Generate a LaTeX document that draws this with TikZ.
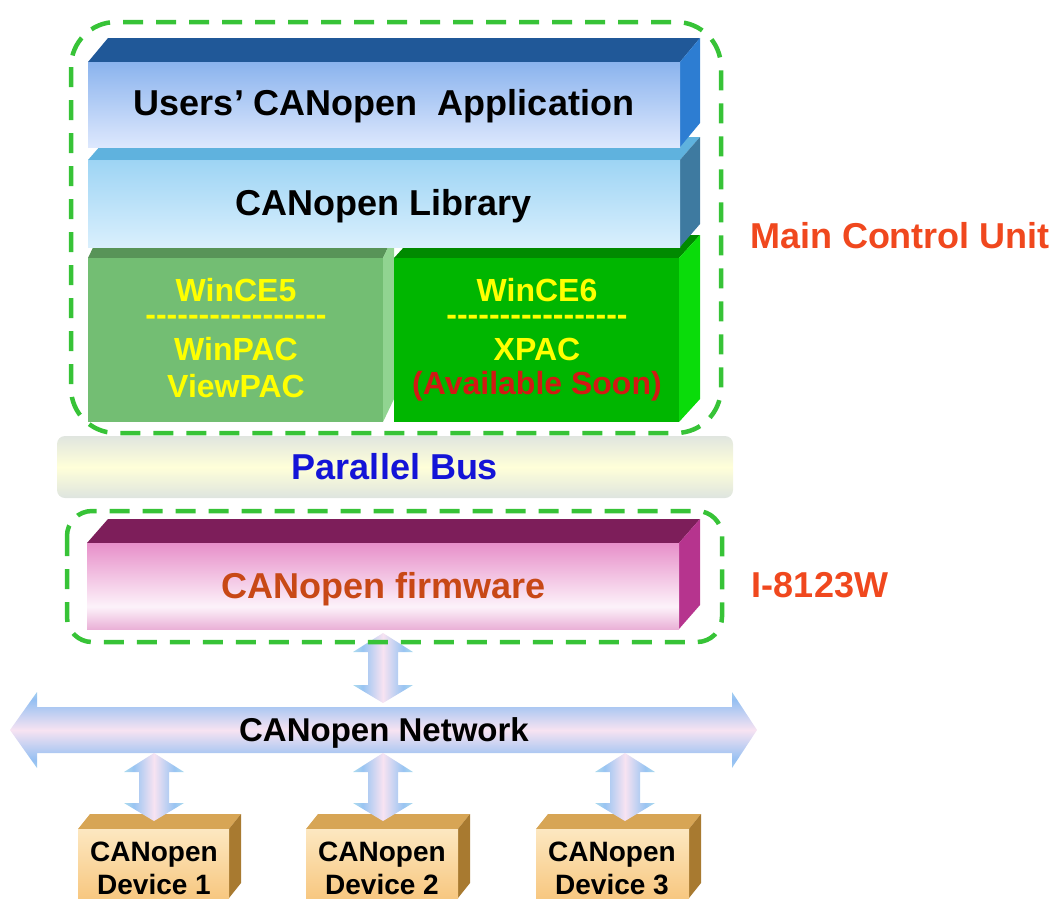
\documentclass[tikz,border=0pt]{standalone}
\usepackage{fontspec}
\setmainfont{Liberation Sans}
\definecolor{dashgreen}{RGB}{55,195,55}
\definecolor{apptop}{RGB}{32,88,152}
\definecolor{appside}{RGB}{45,125,210}
\definecolor{libtop}{RGB}{95,178,222}
\definecolor{libside}{RGB}{62,122,160}
\definecolor{ceAfront}{RGB}{115,190,115}
\definecolor{ceAtop}{RGB}{88,148,88}
\definecolor{ceAside}{RGB}{145,212,145}
\definecolor{ceBfront}{RGB}{0,182,0}
\definecolor{ceBtop}{RGB}{0,138,0}
\definecolor{ceBside}{RGB}{10,220,10}
\definecolor{fwtop}{RGB}{125,30,90}
\definecolor{fwside}{RGB}{182,52,142}
\definecolor{devtop}{RGB}{215,165,85}
\definecolor{devside}{RGB}{168,122,48}
\definecolor{labelred}{RGB}{240,72,30}
\definecolor{fwtext}{RGB}{200,72,22}
\definecolor{busblue}{RGB}{20,20,215}
\definecolor{yel}{RGB}{255,255,0}
\definecolor{soonred}{RGB}{210,25,20}
\pgfdeclareverticalshading{appfront}{100bp}{rgb(0bp)=(0.4,0.6,0.9); rgb(20bp)=(0.9,0.93,1); rgb(100bp)=(0.38,0.6,0.9)}
\pgfdeclareverticalshading{libfront}{100bp}{rgb(0bp)=(0.72,0.87,0.98); rgb(15bp)=(0.9,0.96,1); rgb(100bp)=(0.5,0.78,0.94)}
\pgfdeclareverticalshading{fwfront}{100bp}{rgb(0bp)=(0.78,0.2,0.58); rgb(38bp)=(0.99,0.95,0.98); rgb(100bp)=(0.85,0.3,0.66)}
\pgfdeclareverticalshading{busshade}{100bp}{rgb(0bp)=(0.74,0.79,0.9); rgb(50bp)=(1,1,0.85); rgb(100bp)=(0.76,0.8,0.9)}
\pgfdeclareverticalshading{devfront}{100bp}{rgb(0bp)=(0.96,0.72,0.38); rgb(100bp)=(1,0.97,0.88)}
\pgfdeclareverticalshading{harrow}{100bp}{rgb(0bp)=(0.78,0.92,0.94); rgb(20bp)=(0.7,0.87,0.93); rgb(30bp)=(0.58,0.75,0.95); rgb(50bp)=(0.97,0.89,0.95); rgb(70bp)=(0.58,0.75,0.95); rgb(80bp)=(0.7,0.87,0.93); rgb(100bp)=(0.78,0.92,0.94)}
\pgfdeclarehorizontalshading{varrow}{100bp}{rgb(0bp)=(0.78,0.92,0.94); rgb(25bp)=(0.68,0.86,0.93); rgb(33bp)=(0.6,0.77,0.95); rgb(50bp)=(0.97,0.89,0.95); rgb(67bp)=(0.6,0.77,0.95); rgb(75bp)=(0.68,0.86,0.93); rgb(100bp)=(0.78,0.92,0.94)}
% 3D box: x1,y1,x2,y2,dx,dy,top colour,side colour,front style
\newcommand\tdbox[9]{%
  \fill[#7] (#1,#2) -- (#1+#5,#2-#6) -- (#3+#5,#2-#6) -- (#3,#2) -- cycle;
  \fill[#8] (#3,#2) -- (#3+#5,#2-#6) -- (#3+#5,#4-#6) -- (#3,#4) -- cycle;
  \path[#9] (#1,#2) rectangle (#3,#4);}
% vertical double arrow: x, y top tip, y bottom tip
\newcommand\vdarrow[3]{%
  \shade[shading=varrow] (#1,#2) -- (#1+30,#2+19) -- (#1+15,#2+19) -- (#1+15,#3-18)
    -- (#1+30,#3-18) -- (#1,#3) -- (#1-30,#3-18) -- (#1-15,#3-18) -- (#1-15,#2+19)
    -- (#1-30,#2+19) -- cycle;}
\newcommand\hy{-\kern0pt}
\begin{document}
\begin{tikzpicture}[x=1pt,y=-1pt,
  big/.style={font=\fontsize{36}{40}\selectfont\bfseries},
  mid/.style={font=\fontsize{32}{36}\selectfont\bfseries},
  rule/.style={font=\fontsize{32}{36}\selectfont\bfseries, anchor=base, inner sep=0pt, text height=12pt, text depth=0pt},
  net/.style={font=\fontsize{33}{36}\selectfont\bfseries},
  dev/.style={font=\fontsize{28}{33}\selectfont\bfseries, align=center},
  grp/.style={draw=dashgreen, line width=4.5pt, dash pattern=on 20pt off 13pt}]
\useasboundingbox (0,0) rectangle (1058,898);

% green OS boxes
\tdbox{88}{258}{383}{422}{11}{23}{ceAtop}{ceAside}{fill=ceAfront}
\tdbox{394}{258}{679}{422}{21}{23}{ceBtop}{ceBside}{fill=ceBfront}
% library and application
\tdbox{88}{160}{680}{247}{20}{23}{libtop}{libside}{shade,shading=libfront}
\tdbox{88}{62}{680}{147}{20}{24}{apptop}{appside}{shade,shading=appfront}
% firmware
\tdbox{87}{543}{679}{629}{21}{24}{fwtop}{fwside}{shade,shading=fwfront}
% parallel bus
\shade[shading=busshade, rounded corners=8pt] (57,436) rectangle (733,498);

% network arrow
\shade[shading=harrow] (10,730) -- (37,692) -- (37,707) -- (732,707) -- (732,692)
  -- (757,730) -- (732,768) -- (732,753) -- (37,753) -- (37,768) -- cycle;

% devices
\tdbox{78}{829}{229}{898}{12}{15}{devtop}{devside}{shade,shading=devfront}
\tdbox{306}{829}{458}{898}{12}{15}{devtop}{devside}{shade,shading=devfront}
\tdbox{536}{829}{689}{898}{12}{15}{devtop}{devside}{shade,shading=devfront}

% connectors
\vdarrow{383}{633}{703}
\vdarrow{154}{753}{821}
\vdarrow{383}{753}{821}
\vdarrow{625}{753}{821}

% group outlines
\draw[grp, rounded corners=45pt] (71,22) rectangle (721,433);
\draw[grp, rounded corners=25pt] (67,511) rectangle (722,642);

% texts
\node[big] (app) at (384,106) {Users’ CANopen\ \ Application};
\node[big] (lib) at (384,206) {CANopen Library};
\node[mid, text=yel] (ceA) at (236,290) {WinCE5};
\node[rule, text=yel] (ceAd) at (236,325) {\hy\hy\hy\hy\hy\hy\hy\hy\hy\hy\hy\hy\hy\hy\hy\hy\hy};
\node[mid, text=yel] (ceAb) at (236,349) {WinPAC};
\node[mid, text=yel] (ceAc) at (236,386) {ViewPAC};
\node[mid, text=yel] (ceB) at (537,290) {WinCE6};
\node[rule, text=yel] (ceBd) at (537,325) {\hy\hy\hy\hy\hy\hy\hy\hy\hy\hy\hy\hy\hy\hy\hy\hy\hy};
\node[mid, text=yel] (ceBb) at (537,349) {XPAC};
\node[mid, text=soonred] (ceBc) at (537,386) {(Available Soon)};
\node[big, text=labelred] (mcu) at (900,236) {Main Control Unit};
\node[big, text=busblue] (bus) at (395,467) {Parallel Bus};
\node[big, text=fwtext] (fw) at (384,589) {CANopen firmware};
\node[big, text=labelred] (io) at (820,585) {I-8123W};
\node[net] (netw) at (384,733) {CANopen Network};
\node[dev] (d1) at (154,868) {CANopen\\Device 1};
\node[dev] (d2) at (382,868) {CANopen\\Device 2};
\node[dev] (d3) at (612,868) {CANopen\\Device 3};
\end{tikzpicture}
\end{document}
